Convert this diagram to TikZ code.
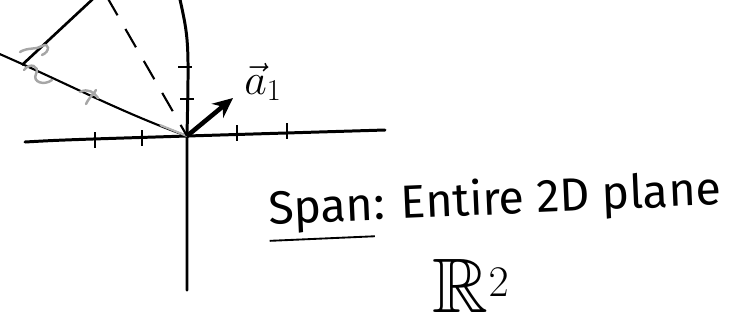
\documentclass[tikz,border=0pt]{standalone}
\usepackage{amsmath,amssymb}
\usepackage{fontspec}
\setmainfont{Fira Sans}
\usetikzlibrary{arrows.meta,positioning}

\begin{document}
\begin{tikzpicture}[x=0.02cm,y=-0.02cm,
  axis/.style={line width=1.7pt,line cap=round},
  tick/.style={line width=1.4pt},
  vec/.style={-{Stealth[length=4mm,width=3.6mm]},line width=2.6pt},
  span/.style={line width=1.2pt},
  scrib/.style={gray!70,line width=1.4pt,line cap=round},
  lbl/.style={inner sep=0pt}
]
\useasboundingbox (0,0) rectangle (740,326);
\begin{scope}
\clip (0,0) rectangle (740,326);
% axes
\coordinate (O) at (187,136);
\coordinate (xl) at (25,142);
\coordinate (xr) at (385,130);
\coordinate (yt) at (179,-5);
\coordinate (yb) at (187,290);
\draw[axis] (xl) .. controls (60,140) .. (O) -- (xr);
\draw[axis] (yt) .. controls (189,40) .. (O) -- (yb);
% ticks
\foreach \x/\y in {95/140,142/138,237/133,287/131}
  \draw[tick] (\x,\y-8) -- (\x,\y+8);
\foreach \x/\y in {185/67,187/99}
  \draw[tick] (\x-7,\y) -- (\x+7,\y);
% vector a1
\coordinate (a1) at (233,98);
\draw[vec] (O) -- (a1);
\node[lbl] (a1lbl) at (263,82) {\fontsize{27}{30}\selectfont$\vec{a}_{1}$};
% line through the second vector
\coordinate (s0) at (-5,52);
\draw[span] (O) .. controls (120,112) and (60,80) .. (s0);
\draw[span,gray!60] (O) -- (160,125);
% parallelogram side and dashed diagonal
\coordinate (p0) at (22,65);
\coordinate (p1) at (95,-3);
\draw[span,line width=1.5pt] (p0) -- (p1);
\coordinate (d0) at (107,-3);
\draw[span,dashed,dash pattern=on 12pt off 9pt] (d0) -- (O);
% grey scribbles
\draw[scrib] (80,92) .. controls (88,88) and (94,92) .. (98,98)
  (86,104) .. controls (90,96) and (94,94) .. (96,90);
\draw[scrib] (20,52) .. controls (28,47) and (36,50) .. (42,46)
  .. controls (50,42) and (50,52) .. (42,55)
  (24,70) .. controls (30,62) and (40,66) .. (36,74)
  .. controls (32,82) and (44,86) .. (52,80);
\end{scope}
% text
\node[lbl,rotate=2.5] (spantxt) at (495,206)
  {\fontsize{26.5}{32}\selectfont\underline{Span}: Entire 2D plane};
\node[lbl,below=0.5cm of spantxt,xshift=-0.5cm] (rr)
  {\fontsize{44}{50}\selectfont$\mathbb{R}^{2}$};
\end{tikzpicture}
\end{document}
